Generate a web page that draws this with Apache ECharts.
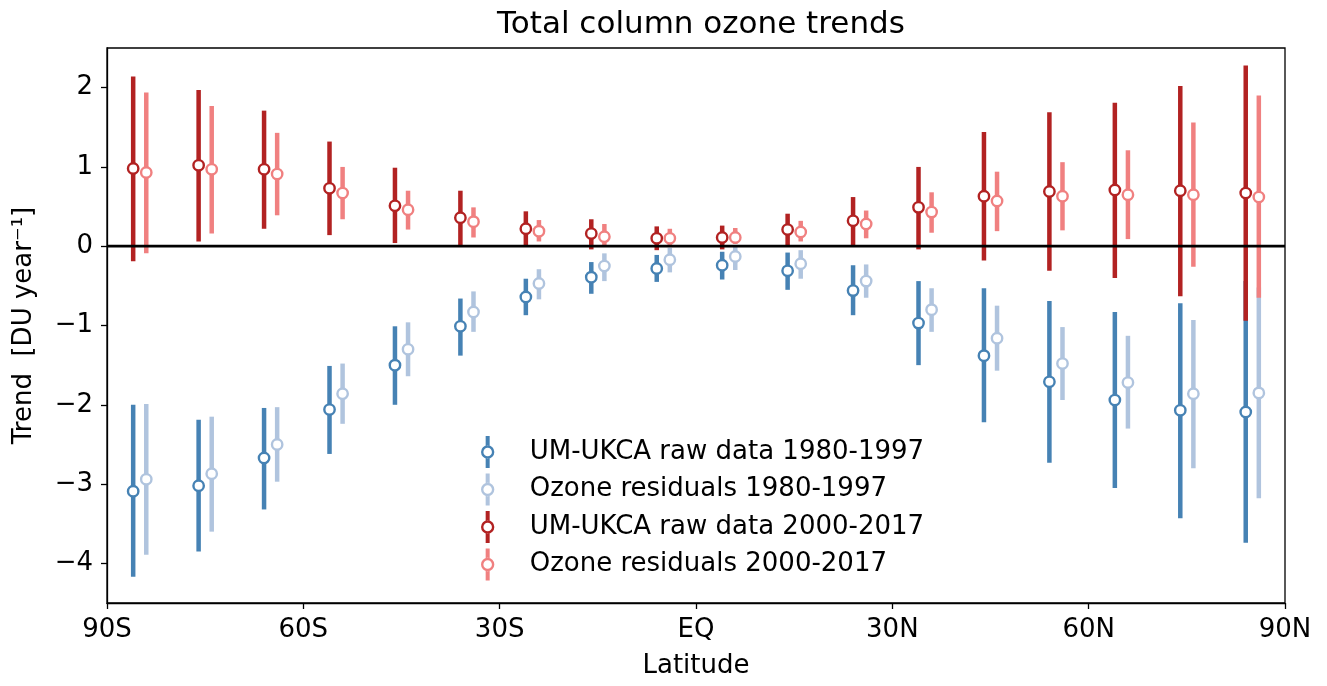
<!DOCTYPE html>
<html>
<head>
<meta charset="utf-8">
<title>Total column ozone trends</title>
<script src="https://cdn.jsdelivr.net/npm/echarts@6/dist/echarts.min.js"></script>
<style>
  html, body { margin: 0; padding: 0; background: #fff; }
  #chart { width: 1327px; height: 686px; }
</style>
</head>
<body>
<div id="chart"></div>
<script>
// latitude band centres (deg), south negative
const latitudes = [-85, -75, -65, -55, -45, -35, -25, -15, -5, 5, 15, 25, 35, 45, 55, 65, 75, 85]

// each row: [low, trend, high] in DU / year
const rawEarly = [
  [-4.17, -3.09, -2.00], [-3.85, -3.02, -2.19], [-3.32, -2.67, -2.04], [-2.62, -2.06, -1.51],
  [-2.00, -1.50, -1.01], [-1.38, -1.01, -0.66], [-0.87, -0.64, -0.41], [-0.60, -0.39, -0.20],
  [-0.45, -0.28, -0.11], [-0.42, -0.24, -0.07], [-0.55, -0.31, -0.08], [-0.87, -0.56, -0.24],
  [-1.50, -0.97, -0.44], [-2.22, -1.38, -0.53], [-2.73, -1.71, -0.69], [-3.05, -1.94, -0.83],
  [-3.43, -2.07, -0.72], [-3.74, -2.09, -0.44]
]
const resEarly = [
  [-3.89, -2.94, -1.99], [-3.60, -2.87, -2.15], [-2.97, -2.50, -2.03], [-2.24, -1.86, -1.48],
  [-1.64, -1.30, -0.96], [-1.08, -0.83, -0.57], [-0.67, -0.47, -0.29], [-0.44, -0.25, -0.09],
  [-0.33, -0.17, -0.02], [-0.30, -0.13, -0.01], [-0.41, -0.22, -0.05], [-0.65, -0.44, -0.23],
  [-1.08, -0.80, -0.53], [-1.57, -1.16, -0.75], [-1.94, -1.48, -1.02], [-2.30, -1.72, -1.13],
  [-2.80, -1.86, -0.93], [-3.18, -1.85, -0.52]
]
const rawLate = [
  [-0.19, 0.98, 2.14], [0.06, 1.02, 1.97], [0.22, 0.97, 1.71], [0.14, 0.73, 1.32],
  [0.04, 0.51, 0.99], [0.01, 0.36, 0.70], [0.01, 0.22, 0.44], [-0.04, 0.16, 0.34],
  [-0.05, 0.10, 0.25], [-0.04, 0.11, 0.26], [0.01, 0.21, 0.41], [0.01, 0.32, 0.62],
  [-0.04, 0.49, 1.00], [-0.18, 0.63, 1.44], [-0.31, 0.69, 1.69], [-0.40, 0.71, 1.81],
  [-0.63, 0.70, 2.02], [-0.94, 0.67, 2.28]
]
const resLate = [
  [-0.09, 0.93, 1.94], [0.16, 0.97, 1.77], [0.39, 0.91, 1.43], [0.34, 0.67, 1.00],
  [0.21, 0.46, 0.70], [0.11, 0.31, 0.49], [0.06, 0.19, 0.33], [0.01, 0.12, 0.28],
  [0.01, 0.10, 0.22], [0.03, 0.11, 0.23], [0.06, 0.18, 0.32], [0.10, 0.28, 0.45],
  [0.17, 0.43, 0.68], [0.19, 0.57, 0.94], [0.20, 0.63, 1.06], [0.09, 0.65, 1.21],
  [-0.26, 0.65, 1.56], [-0.65, 0.62, 1.90]
]

const seriesNames = [
  'UM-UKCA raw data 1980-1997',
  'Ozone residuals 1980-1997',
  'UM-UKCA raw data 2000-2017',
  'Ozone residuals 2000-2017'
]

const xTicks = [-90, -60, -30, 0, 30, 60, 90]
const xTickLabels = ['90S', '60S', '30S', 'EQ', '30N', '60N', '90N']
const yTicks = [-4, -3, -2, -1, 0, 1, 2]

const FONT = 'DejaVu Sans'

// errorbar marker: bar, hollow circle, bar
const legendIcon = 'path://M3.5,0 L6.5,0 L6.5,7.2 L3.5,7.2 Z M3.5,16.8 L6.5,16.8 L6.5,24 L3.5,24 Z ' +
  'M0,12 A5,5 0 1,0 10,12 A5,5 0 1,0 0,12 Z M1.8,12 A3.2,3.2 0 1,1 8.2,12 A3.2,3.2 0 1,1 1.8,12 Z'

const errorBarSeries = (name, rows, color, dx) => ({
  name,
  type: 'custom',
  itemStyle: { color },
  data: rows.map((r, i) => [latitudes[i] + dx, r[1], r[0], r[2]]),
  encode: { x: 0, y: [1, 2, 3] },
  renderItem: (params, api) => {
    const x = api.value(0)
    const top = api.coord([x, api.value(3)])
    const bot = api.coord([x, api.value(2)])
    const mid = api.coord([x, api.value(1)])
    return {
      type: 'group',
      children: [
        {
          type: 'line',
          shape: { x1: top[0], y1: top[1], x2: bot[0], y2: bot[1] },
          style: { stroke: color, lineWidth: 4.5 }
        },
        {
          type: 'circle',
          shape: { cx: mid[0], cy: mid[1], r: 5.2 },
          style: { fill: '#fff', stroke: color, lineWidth: 2.4 }
        }
      ]
    }
  }
})

const chart = echarts.init(document.getElementById('chart'), null, { renderer: 'canvas' })

const option = {
  backgroundColor: '#fff',
  animation: false,
  textStyle: { fontFamily: FONT },
  title: {
    text: 'Total column ozone trends',
    left: 696,
    top: 4,
    textAlign: 'center',
    textStyle: { fontFamily: FONT, fontSize: 31, fontWeight: 'normal', color: '#000' }
  },
  grid: {
    left: 107,
    right: 42,
    top: 48,
    bottom: 83,
    show: true,
    borderColor: '#000',
    borderWidth: 1.3,
    backgroundColor: 'transparent'
  },
  legend: {
    data: seriesNames.map(n => ({ name: n, icon: legendIcon })),
    orient: 'vertical',
    left: 476,
    top: 431,
    itemWidth: 16,
    itemHeight: 32,
    itemGap: 5.5,
    selectedMode: false,
    textStyle: {
      fontFamily: FONT,
      fontSize: 26,
      color: '#000',
      padding: [0, 0, 0, 29]
    }
  },
  xAxis: {
    type: 'value',
    min: -90,
    max: 90,
    interval: 30,
    name: 'Latitude',
    nameLocation: 'middle',
    nameGap: 50,
    nameTextStyle: { fontFamily: FONT, fontSize: 26, color: '#000' },
    splitLine: { show: false },
    axisLine: { show: true, onZero: false, lineStyle: { color: '#000', width: 1.3 } },
    axisTick: { show: true, length: 6, lineStyle: { color: '#000', width: 1.3 } },
    axisLabel: {
      margin: 14,
      fontFamily: FONT,
      fontSize: 26,
      color: '#000',
      formatter: v => xTickLabels[xTicks.indexOf(v)] ?? ''
    }
  },
  yAxis: {
    type: 'value',
    min: -4.5,
    max: 2.5,
    name: 'Trend  [DU year\u207B\u00B9]',
    nameLocation: 'middle',
    nameGap: 70,
    nameTextStyle: { fontFamily: FONT, fontSize: 26, color: '#000' },
    splitLine: { show: false },
    axisLine: { show: true, onZero: false, lineStyle: { color: '#000', width: 1.3 } },
    axisTick: { show: true, length: 6, customValues: yTicks, lineStyle: { color: '#000', width: 1.3 } },
    axisLabel: {
      margin: 14,
      customValues: yTicks,
      fontFamily: FONT,
      fontSize: 26,
      color: '#000',
      formatter: v => (v < 0 ? '\u2212' + Math.abs(v) : String(v))
    }
  },
  series: [
    errorBarSeries(seriesNames[0], rawEarly, '#4682b4', -1),
    errorBarSeries(seriesNames[1], resEarly, '#b0c4de', 1),
    errorBarSeries(seriesNames[2], rawLate, '#b22222', -1),
    errorBarSeries(seriesNames[3], resLate, '#f08080', 1),
    {
      name: 'zero',
      type: 'line',
      data: [[-90, 0], [90, 0]],
      symbol: 'none',
      silent: true,
      z: 10,
      lineStyle: { color: '#000', width: 2.8 }
    }
  ]
}

chart.setOption(option)
window.addEventListener('resize', () => chart.resize())
</script>
</body>
</html>
